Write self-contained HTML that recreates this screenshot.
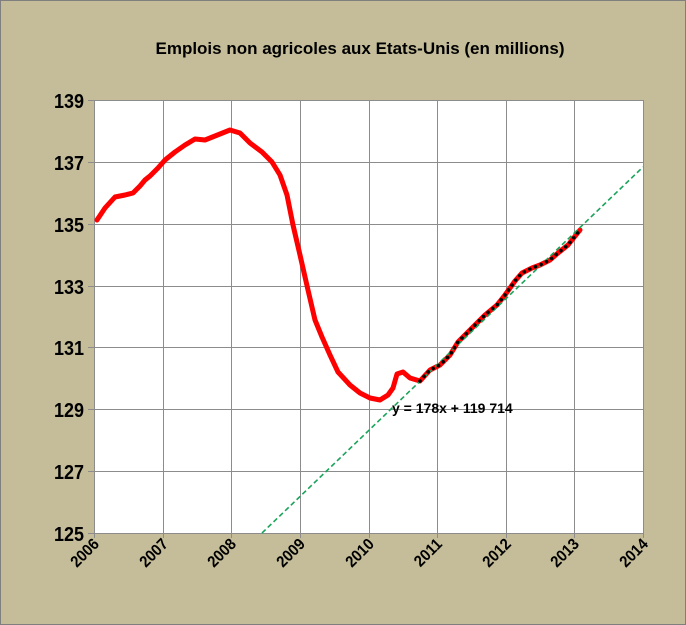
<!DOCTYPE html>
<html><head><style>
body{margin:0;background:#fff}
svg{display:block}
text{font-family:"Liberation Sans",Arial,sans-serif;font-weight:bold;fill:#000}
</style></head><body>
<svg width="686" height="625" viewBox="0 0 686 625">
<rect x="0.5" y="0.5" width="685" height="624" fill="#c5bd99" stroke="#7f7f7f"/>
<text x="360" y="54" font-size="17" text-anchor="middle">Emplois non agricoles aux Etats-Unis (en millions)</text>
<rect x="94" y="100" width="550" height="433" fill="#fff"/>
<g stroke="#8c8c8c" stroke-width="1">
<line x1="94" y1="100.5" x2="644" y2="100.5"/>
<line x1="94" y1="162.5" x2="644" y2="162.5"/>
<line x1="94" y1="224.5" x2="644" y2="224.5"/>
<line x1="94" y1="286.5" x2="644" y2="286.5"/>
<line x1="94" y1="347.5" x2="644" y2="347.5"/>
<line x1="94" y1="409.5" x2="644" y2="409.5"/>
<line x1="94" y1="471.5" x2="644" y2="471.5"/>
<line x1="88" y1="533.5" x2="644" y2="533.5"/>
<line x1="163.5" y1="100" x2="163.5" y2="538"/>
<line x1="231.5" y1="100" x2="231.5" y2="538"/>
<line x1="300.5" y1="100" x2="300.5" y2="538"/>
<line x1="369.5" y1="100" x2="369.5" y2="538"/>
<line x1="437.5" y1="100" x2="437.5" y2="538"/>
<line x1="506.5" y1="100" x2="506.5" y2="538"/>
<line x1="574.5" y1="100" x2="574.5" y2="538"/>
<line x1="643.5" y1="100" x2="643.5" y2="538"/>
<line x1="94.5" y1="100" x2="94.5" y2="538"/>
<line x1="88" y1="100.5" x2="94" y2="100.5"/>
<line x1="88" y1="162.5" x2="94" y2="162.5"/>
<line x1="88" y1="224.5" x2="94" y2="224.5"/>
<line x1="88" y1="286.5" x2="94" y2="286.5"/>
<line x1="88" y1="347.5" x2="94" y2="347.5"/>
<line x1="88" y1="409.5" x2="94" y2="409.5"/>
<line x1="88" y1="471.5" x2="94" y2="471.5"/>
</g>
<g font-size="20" text-anchor="end">
<text transform="translate(84,108) scale(0.9,1)">139</text>
<text transform="translate(84,170) scale(0.9,1)">137</text>
<text transform="translate(84,232) scale(0.9,1)">135</text>
<text transform="translate(84,294) scale(0.9,1)">133</text>
<text transform="translate(84,355) scale(0.9,1)">131</text>
<text transform="translate(84,417) scale(0.9,1)">129</text>
<text transform="translate(84,479) scale(0.9,1)">127</text>
<text transform="translate(84,541) scale(0.9,1)">125</text>
</g>
<g font-size="16">
<text transform="translate(100,545) rotate(-45) scale(0.92,1)" text-anchor="end">2006</text>
<text transform="translate(169,545) rotate(-45) scale(0.92,1)" text-anchor="end">2007</text>
<text transform="translate(237,545) rotate(-45) scale(0.92,1)" text-anchor="end">2008</text>
<text transform="translate(306,545) rotate(-45) scale(0.92,1)" text-anchor="end">2009</text>
<text transform="translate(375,545) rotate(-45) scale(0.92,1)" text-anchor="end">2010</text>
<text transform="translate(443,545) rotate(-45) scale(0.92,1)" text-anchor="end">2011</text>
<text transform="translate(512,545) rotate(-45) scale(0.92,1)" text-anchor="end">2012</text>
<text transform="translate(580,545) rotate(-45) scale(0.92,1)" text-anchor="end">2013</text>
<text transform="translate(649,545) rotate(-45) scale(0.92,1)" text-anchor="end">2014</text>
</g>
<polyline fill="none" stroke="#ff0000" stroke-width="5" stroke-linejoin="round" stroke-linecap="round"
points="97,220 105,208 115,197 125,195 133,193 140,186 145,180 150,176 158,168 165,160 175,152 185,145 195,139 205,140 215,136 230,130 240,133 250,143 262,152 272,162 280,175 287,195 293,225 300,255 308,290 315,320 322,337 330,355 338,372 350,385 360,393 370,398 380,400 388,395 393,388 397,374 403,372 410,378 420,381 430,370 440,365 450,355 458,342 465,335 475,325 485,315 497,305 505,295 515,281 522,273 532,268 540,265 550,260 558,253 568,245 580,230"/>
<line x1="262" y1="533" x2="643" y2="167" stroke="#1aa35a" stroke-width="1.6" stroke-dasharray="5 3"/>
<polyline fill="none" stroke="#000" stroke-width="3.5" stroke-dasharray="0.1 6" stroke-linecap="round"
points="420,381 430,370 440,365 450,355 458,342 465,335 475,325 485,315 497,305 505,295 515,281 522,273 532,268 540,265 550,260 558,253 568,245 580,230"/>
<text x="392" y="413" font-size="14">y = 178x + 119 714</text>
</svg>
</body></html>
